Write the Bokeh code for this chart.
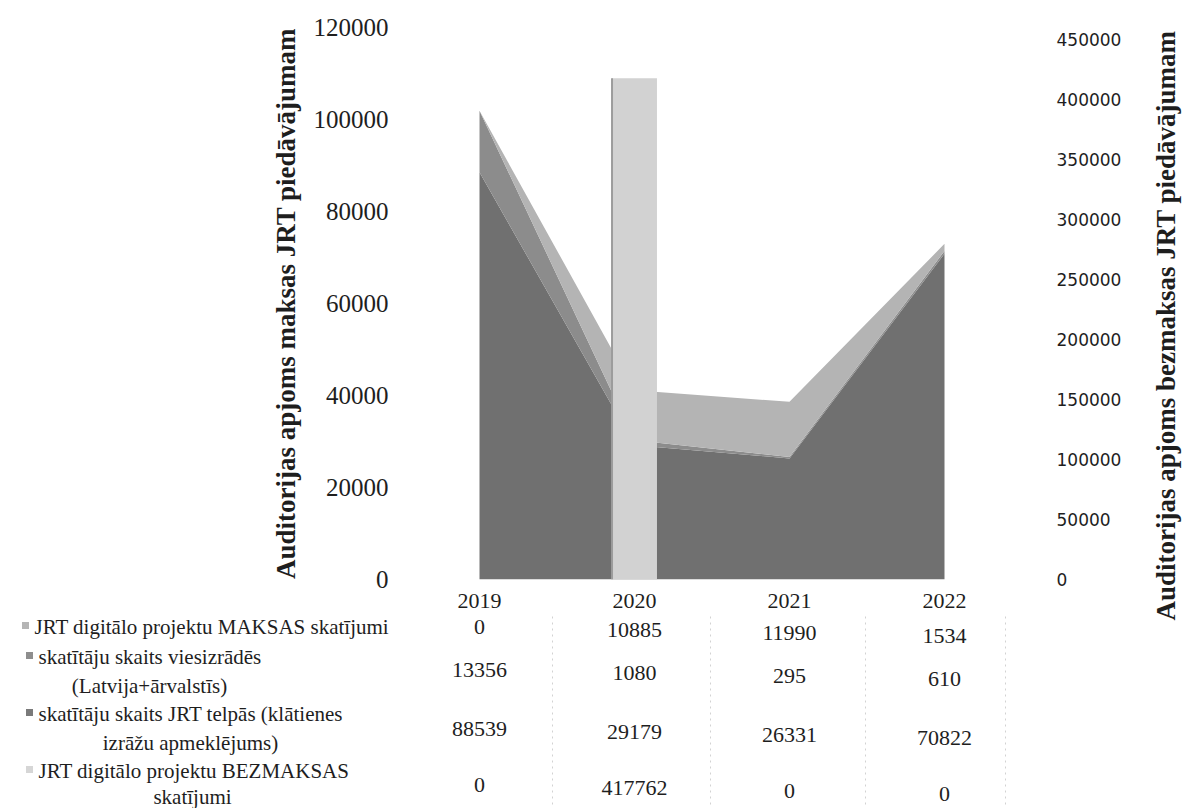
import math
from bokeh.plotting import figure
from bokeh.layouts import row, column
from bokeh.models import (Range1d, LinearAxis, FixedTicker, ColumnDataSource,
                          BasicTickFormatter)
from bokeh.core.properties import value
from bokeh.embed import file_html
from bokeh.resources import INLINE

# ---------------- data ----------------
years = ["2019", "2020", "2021", "2022"]
maksas = [0, 10885, 11990, 1534]
viesizrades = [13356, 1080, 295, 610]
telpas = [88539, 29179, 26331, 70822]
bezmaksas = [0, 417762, 0, 0]

series_lines = [
    ["JRT digitālo projektu MAKSAS skatījumi"],
    ["skatītāju skaits viesizrādēs", "(Latvija+ārvalstīs)"],
    ["skatītāju skaits JRT telpās (klātienes", "izrāžu apmeklējums)"],
    ["JRT digitālo projektu BEZMAKSAS", "skatījumi"],
]
table_rows = [maksas, viesizrades, telpas, bezmaksas]

left_ticks = [0, 20000, 40000, 60000, 80000, 100000, 120000]
right_ticks = [0, 50000, 100000, 150000, 200000, 250000, 300000, 350000, 400000, 450000]
left_title = "Auditorijas apjoms maksas JRT piedāvājumam"
right_title = "Auditorijas apjoms bezmaksas JRT piedāvājumam"

# ---------------- layout (page pixels) ----------------
PAGE_W, PAGE_H = 1184, 808
MAIN_W, MAIN_H = 1146, 614
FL, FR, FT, FB = 410, 1038, 27, 579       # plot frame
X_ORIGIN, X_STEP = 479, 155               # page x of category 0, px per category
YMAX_L, YMAX_R = 120000, 460000

def ix(px):
    return (px - X_ORIGIN) / X_STEP

SERIF = "Liberation Serif"
TXT = "#1e1e1e"

def clean(fig):
    fig.outline_line_color = None
    fig.background_fill_color = "white"
    fig.border_fill_color = "white"
    fig.xgrid.visible = False
    fig.ygrid.visible = False
    try:
        fig.frame_align = False
    except Exception:
        pass

# ---------------- main chart ----------------
p = figure(width=MAIN_W, height=MAIN_H,
           x_range=Range1d(ix(FL), ix(FR)), y_range=Range1d(0, YMAX_L),
           output_backend="svg", toolbar_location=None,
           min_border_left=FL, min_border_right=MAIN_W - FR,
           min_border_top=FT, min_border_bottom=MAIN_H - FB)
p.extra_y_ranges = {"right": Range1d(0, YMAX_R)}
clean(p)

xa = p.xaxis[0]
xa.ticker = FixedTicker(ticks=list(range(len(years))))
xa.major_label_overrides = {i: y for i, y in enumerate(years)}
xa.axis_line_color = None
xa.major_tick_line_color = None
xa.minor_tick_line_color = None
xa.major_label_standoff = 8
xa.major_label_text_font = SERIF
xa.major_label_text_font_size = "22px"
xa.major_label_text_color = TXT

ly = p.yaxis[0]
ly.ticker = FixedTicker(ticks=left_ticks)
ly.formatter = BasicTickFormatter(use_scientific=False)
ly.axis_line_color = None
ly.major_tick_line_color = None
ly.minor_tick_line_color = None
ly.major_label_text_font = SERIF
ly.major_label_text_font_size = "25px"
ly.major_label_text_color = TXT
ly.major_label_standoff = 16
ly.axis_label = left_title
ly.axis_label_text_font = SERIF
ly.axis_label_text_font_style = "bold"
ly.axis_label_text_font_size = "27px"
ly.axis_label_text_color = TXT
ly.axis_label_standoff = 10

ry = LinearAxis(y_range_name="right", ticker=FixedTicker(ticks=right_ticks),
                formatter=BasicTickFormatter(use_scientific=False))
ry.axis_line_color = None
ry.major_tick_line_color = None
ry.minor_tick_line_color = None
ry.major_label_text_font = "DejaVu Sans"
ry.major_label_text_font_size = "17px"
ry.major_label_text_color = TXT
ry.major_label_standoff = 12
p.add_layout(ry, "right")

src = ColumnDataSource(dict(x=list(range(len(years))), telpas=telpas,
                            vies=viesizrades, maksas=maksas, bez=bezmaksas))
p.varea_stack(["telpas", "vies", "maksas"], x="x",
              color=["#707070", "#8c8c8c", "#b4b4b4"], source=src)

col_w = 0.29
p.vbar(x="x", top="bez", width=col_w, source=src, y_range_name="right",
       fill_color="#d2d2d2", line_color=None)
edge = ColumnDataSource(dict(x=[i - col_w / 2 for i in range(len(years))],
                             y0=[0] * len(years), y1=bezmaksas))
p.segment(x0="x", y0="y0", x1="x", y1="y1", source=edge, y_range_name="right",
          line_color="#9c9c9c", line_width=2)

# ---------------- right axis title ----------------
t = figure(width=PAGE_W - MAIN_W, height=PAGE_H,
           x_range=Range1d(0, PAGE_W - MAIN_W), y_range=Range1d(0, PAGE_H),
           output_backend="svg", toolbar_location=None,
           min_border=0)
clean(t)
t.axis.visible = False
t.text(x=[(PAGE_W - MAIN_W) / 2], y=[PAGE_H - 325], text=[right_title],
       angle=math.pi / 2, text_align="center", text_baseline="middle",
       text_font=value(SERIF), text_font_style="bold",
       text_font_size="27px", text_color=TXT)

# ---------------- data table ----------------
TAB_H = PAGE_H - MAIN_H
tb = figure(width=MAIN_W, height=TAB_H,
            x_range=Range1d(ix(0), ix(MAIN_W)), y_range=Range1d(PAGE_H, MAIN_H),
            output_backend="svg", toolbar_location=None, min_border=0)
clean(tb)
tb.axis.visible = False

row_y = [626, 669, 728, 784]
skew = 3.0
vx, vy, vt = [], [], []
for r, vals in enumerate(table_rows):
    for i, v in enumerate(vals):
        vx.append(i)
        vy.append(row_y[r] + skew * i)
        vt.append(str(v))
tb.text(x=vx, y=vy, text=vt, text_align="center", text_baseline="middle",
        text_font=value(SERIF), text_font_size="22px", text_color=TXT)

# faint dotted separators of the table
sep_x = [ix(552), ix(710), ix(865), ix(1005)]
tb.segment(x0=sep_x, y0=[616] * 4, x1=sep_x, y1=[806] * 4,
           line_color="#d2d2d2", line_width=1, line_dash="2 4")

# row labels (legend keys): first line left-aligned after the key,
# continuation line centred below it
LBL_SIZE = "21px"
key_colors = ["#b5b5b5", "#8e8e8e", "#7a7a7a", "#d6d6d6"]
first_x = [34, 38, 38, 38]
cont_x = [None, 149, 190, 192]
line_ys = [[626], [656, 685], [713, 742], [770, 796]]
f_x, f_y, f_t, c_x, c_y, c_t = [], [], [], [], [], []
for r, lines in enumerate(series_lines):
    f_x.append(ix(first_x[r]))
    f_y.append(line_ys[r][0])
    f_t.append(lines[0])
    for k in range(1, len(lines)):
        c_x.append(ix(cont_x[r]))
        c_y.append(line_ys[r][k])
        c_t.append(lines[k])
tb.text(x=f_x, y=f_y, text=f_t, text_align="left", text_baseline="middle",
        text_font=value(SERIF), text_font_size=LBL_SIZE, text_color=TXT)
tb.text(x=c_x, y=c_y, text=c_t, text_align="center", text_baseline="middle",
        text_font=value(SERIF), text_font_size=LBL_SIZE, text_color=TXT)
tb.scatter(x=[ix(v - 9) for v in first_x], y=[y - 1 for y in f_y],
           marker="square", size=7, fill_color=key_colors, line_color=None)

layout = row(column(p, tb, spacing=0), t, spacing=0)
open("out.html", "w", encoding="utf-8").write(file_html(layout, INLINE))
